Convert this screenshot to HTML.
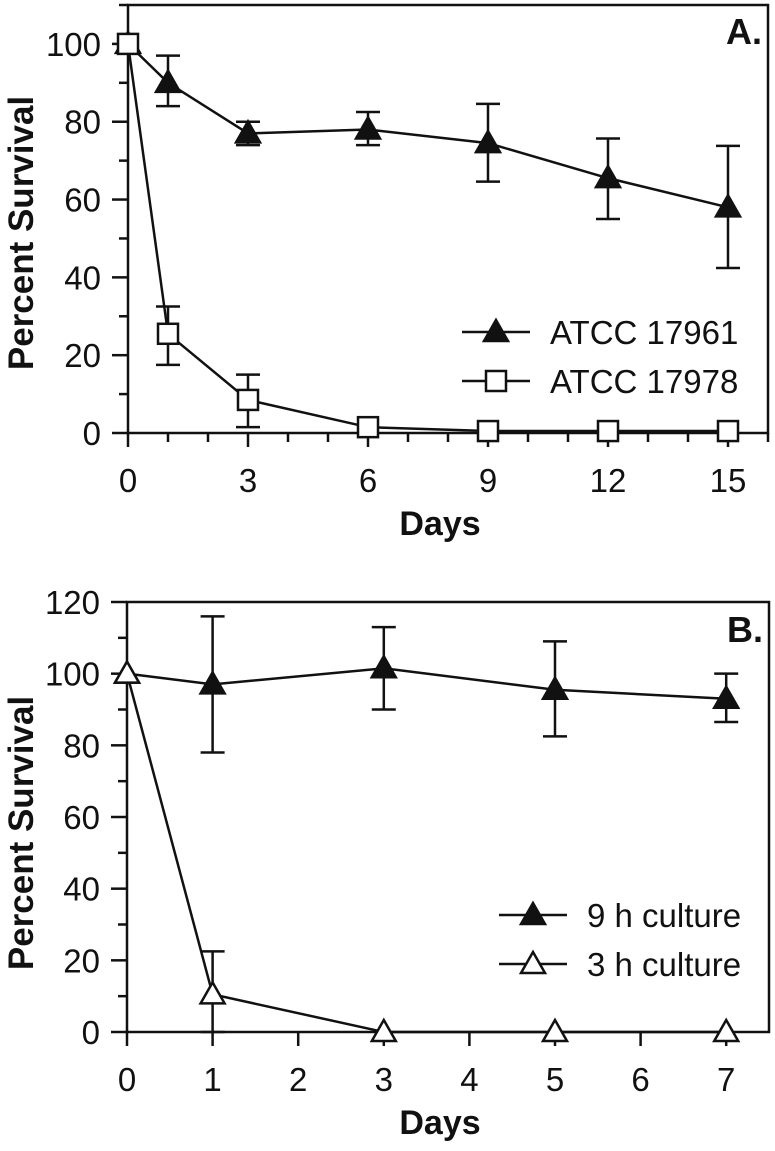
<!DOCTYPE html>
<html><head><meta charset="utf-8"><style>
body{margin:0;background:#fff}
svg{display:block;font-family:"Liberation Sans",Arial,sans-serif}
</style></head><body>
<svg id="c" width="775" height="1151" viewBox="0 0 775 1151"></svg>
<script>
const daysA=[0,1,3,6,9,12,15];
const a17961=[100,90,77,78,74.5,65.5,58];
const a17961Lo=[100,84,74,74,64.6,55,42.4];
const a17961Hi=[100,97,80,82.5,84.6,75.7,73.8];
const a17978=[100,25.5,8.5,1.5,0.5,0.5,0.5];
const a17978Lo=[100,17.5,1.5,1.5,0.5,0.5,0.5];
const a17978Hi=[100,32.5,15,1.5,0.5,0.5,0.5];
const xTicksA=[0,3,6,9,12,15];
const yTicksA=[0,20,40,60,80,100];
const daysB=[0,1,3,5,7];
const b9h=[100,97,101.5,95.5,93];
const b9hLo=[100,78,90,82.5,86.5];
const b9hHi=[100,116,113,109,100];
const b3h=[100,10.5,0,0,0];
const b3hLo=[100,0,0,0,0];
const b3hHi=[100,22.5,0,0,0];
const xTicksB=[0,1,2,3,4,5,6,7];
const yTicksB=[0,20,40,60,80,100,120];

const NS="http://www.w3.org/2000/svg";
const svg=document.getElementById('c');
function el(tag,attrs,parent,text){const e=document.createElementNS(NS,tag);for(const k in attrs)e.setAttribute(k,attrs[k]);if(text!==undefined)e.textContent=text;(parent||svg).appendChild(e);return e;}

function panel(cfg){
 const g=el('g',{});
 
 
 const X=v=>cfg.x0+(v-cfg.xmin)*(cfg.x1-cfg.x0)/(cfg.xmax-cfg.xmin);
 const Y=v=>cfg.y0-(v-cfg.ymin)*(cfg.y0-cfg.y1)/(cfg.ymax-cfg.ymin);
 const box=el('rect',{x:cfg.x0,y:cfg.y1,width:cfg.x1-cfg.x0,height:cfg.y0-cfg.y1,fill:'none',stroke:'#111','stroke-width':2.5},g);
 
 for(let d=cfg.xmin;d<=cfg.xmax;d+=1){const long=cfg.xTicks.includes(d);const t=el('line',{x1:X(d),x2:X(d),y1:cfg.y0,y2:cfg.y0+(long?14:9),stroke:'#111','stroke-width':2.5},g);}
 cfg.xTicks.forEach(d=>{const t=el('text',{x:X(d),y:cfg.y0+59,'font-size':33,'text-anchor':'middle',fill:'#111'},g,String(d));});
 for(let v=cfg.ymin;v<=cfg.ymax;v+=10){const long=cfg.yTicks.includes(v);const t=el('line',{x1:cfg.x0-(long?16:9),x2:cfg.x0,y1:Y(v),y2:Y(v),stroke:'#111','stroke-width':2.5},g);}
 cfg.yTicks.forEach(v=>{const t=el('text',{x:cfg.x0-27,y:Y(v)+12,'font-size':33,'text-anchor':'end',fill:'#111'},g,String(v));});
 const yt=el('text',{x:0,y:0,transform:`translate(33,${cfg.titleY}) rotate(-90)`,'font-size':35,'font-weight':'bold','text-anchor':'middle',fill:'#111'},g,'Percent Survival');
 
 const xt=el('text',{x:440,y:cfg.y0+102,'font-size':34,'font-weight':'bold','text-anchor':'middle',fill:'#111'},g,'Days');
 
 const pl=el('text',{x:cfg.x1-6,y:cfg.labelY,'font-size':36,'font-weight':'bold','text-anchor':'end',fill:'#111'},g,cfg.label);
 
 function marker(kind,cx,cy,parent){
  if(kind==='square'){return el('rect',{x:cx-10,y:cy-10,width:20,height:20,fill:'#fff',stroke:'#111','stroke-width':2.5},parent);}
  const fill=kind==='tri'?'#111':'#fff';
  return el('polygon',{points:`${cx},${cy-12} ${cx-12},${cy+9} ${cx+12},${cy+9}`,fill:fill,stroke:'#111','stroke-width':2.5},parent);
 }
 cfg.series.forEach(s=>{
  const sg=el('g',{},g);
  
  s.vals.forEach((v,i)=>{
   const x=X(s.days[i]);
   if(s.hi[i]!==v||s.lo[i]!==v){
    const e=el('path',{d:`M${x},${Y(s.lo[i])}V${Y(s.hi[i])}M${x-12},${Y(s.lo[i])}h24M${x-12},${Y(s.hi[i])}h24`,stroke:'#111','stroke-width':2.5,fill:'none'},sg);
    
   }
  });
  const ln=el('polyline',{points:s.vals.map((v,i)=>X(s.days[i])+','+Y(v)).join(' '),fill:'none',stroke:'#111','stroke-width':2.5},sg);
  
  s.vals.forEach((v,i)=>{const m=marker(s.marker,X(s.days[i]),Y(v),sg);});
  const lg=el('g',{},g);
  
  el('line',{x1:cfg.legX,x2:cfg.legX+68,y1:s.legY,y2:s.legY,stroke:'#111','stroke-width':2.5},lg);
  marker(s.marker,cfg.legX+34,s.legY,lg);
  el('text',{x:cfg.legX+88,y:s.legY+12,'font-size':33,fill:'#111'},lg,s.label);
 });
}
panel({name:'panel-a',label:'A.',labelY:44,titleY:233,x0:128,x1:768,y0:433,y1:5,xmin:0,xmax:16,ymin:0,ymax:110,xTicks:xTicksA,yTicks:yTicksA,legX:462,
 series:[{name:'series-atcc-17961',label:'ATCC 17961',marker:'tri',days:daysA,vals:a17961,lo:a17961Lo,hi:a17961Hi,legY:332},
         {name:'series-atcc-17978',label:'ATCC 17978',marker:'square',days:daysA,vals:a17978,lo:a17978Lo,hi:a17978Hi,legY:381}]});
panel({name:'panel-b',label:'B.',labelY:642,titleY:833,x0:127,x1:769,y0:1032,y1:602,xmin:0,xmax:7.5,ymin:0,ymax:120,xTicks:xTicksB,yTicks:yTicksB,legX:499,
 series:[{name:'series-9h-culture',label:'9 h culture',marker:'tri',days:daysB,vals:b9h,lo:b9hLo,hi:b9hHi,legY:915},
         {name:'series-3h-culture',label:'3 h culture',marker:'open-tri',days:daysB,vals:b3h,lo:b3hLo,hi:b3hHi,legY:964}]});
</script>
</body></html>
